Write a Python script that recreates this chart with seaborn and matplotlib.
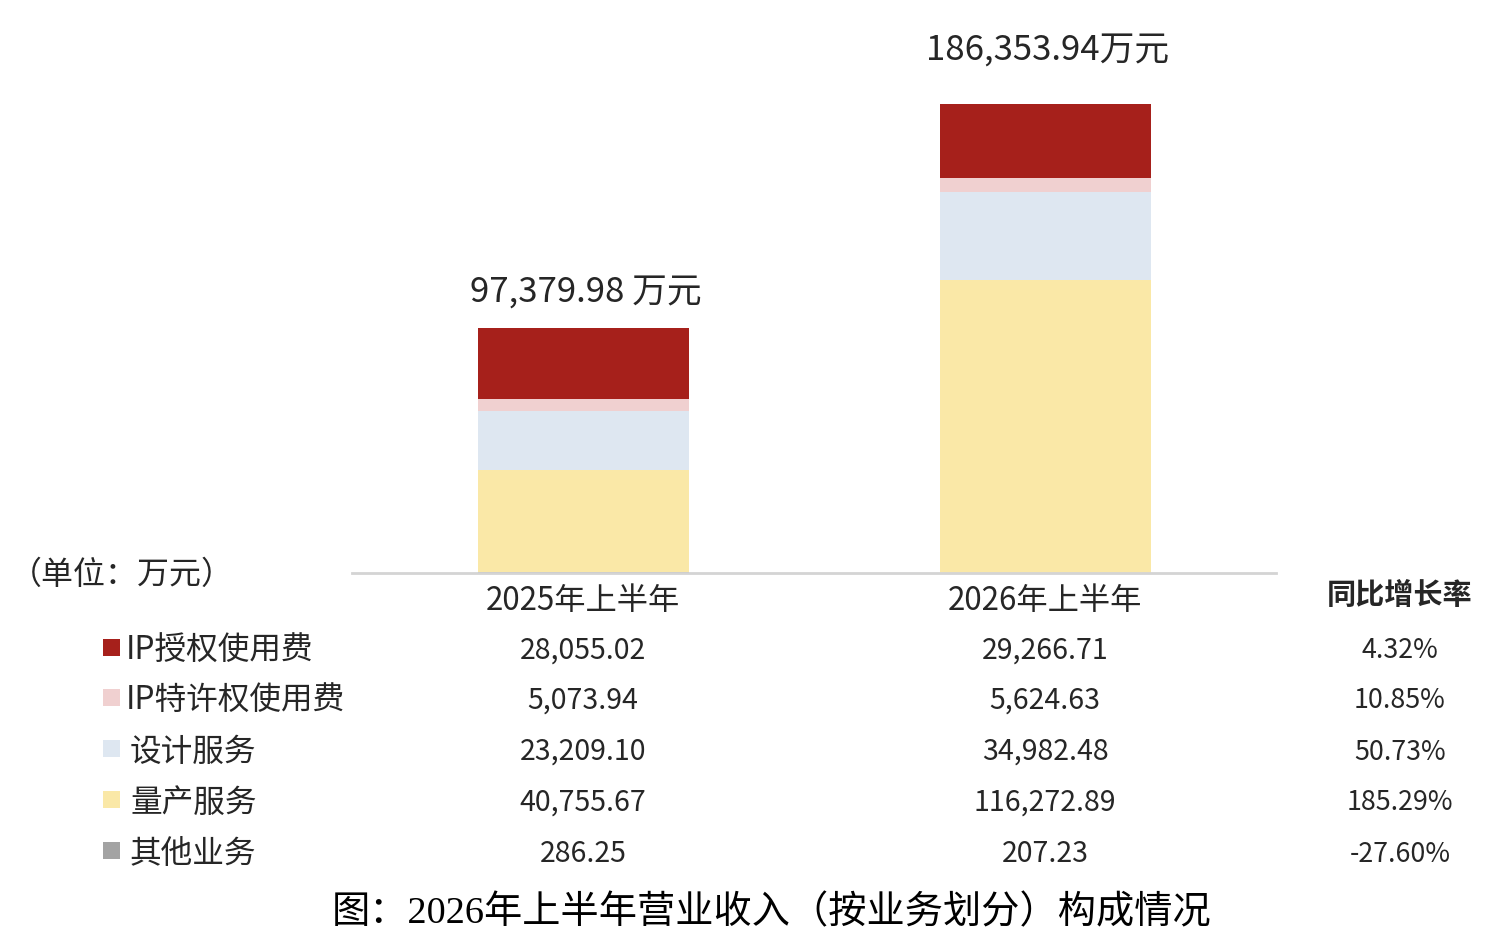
import numpy as np
import pandas as pd
import seaborn as sns
import matplotlib.pyplot as plt
import matplotlib.transforms as mtransforms
from matplotlib.patches import Rectangle

# periods and segments
periods = ["2025年上半年", "2026年上半年"]
segments = ["IP授权使用费", "IP特许权使用费", "设计服务", "量产服务", "其他业务"]

# revenue by segment, 万元
ip_license = [28055.02, 29266.71]
ip_franchise = [5073.94, 5624.63]
design = [23209.10, 34982.48]
mass_prod = [40755.67, 116272.89]
other = [286.25, 207.23]

totals = ["97,379.98 万元", "186,353.94万元"]
yoy = ["4.32%", "10.85%", "50.73%", "185.29%", "-27.60%"]

colors = ["#A6201B", "#F0D0D0", "#DEE7F1", "#FAE8A7", "#A3A3A3"]

sns.set_theme(style="white")
plt.rcParams["font.family"] = ["Noto Sans CJK SC", "DejaVu Sans"]

fig = plt.figure(figsize=(15.02, 9.52), dpi=100)
ax = fig.add_axes([0.2344, 0.398, 0.6152, 0.570])

# stack bottom -> top: other, mass production, design, franchise, license
stack = [other, mass_prod, design, ip_franchise, ip_license]
stack_colors = colors[::-1]
cum = np.cumsum(np.array(stack), axis=0)

for i in range(len(stack) - 1, -1, -1):
    df = pd.DataFrame({"period": periods, "value": cum[i]})
    sns.barplot(data=df, x="period", y="value", color=stack_colors[i],
                saturation=1, width=0.457, ax=ax, linewidth=0)

ax.set_xlim(-0.5, 1.5)
ax.set_ylim(0, 215700)
ax.set_xlabel("")
ax.set_ylabel("")
ax.set_xticks([])
ax.set_yticks([])
for side in ["top", "right", "left"]:
    ax.spines[side].set_visible(False)
ax.spines["bottom"].set_color("#D4D4D4")
ax.spines["bottom"].set_linewidth(2)

# total labels above the bars (gap in pixels)
label_gap = [35, 53]
for i, t in enumerate(totals):
    off = mtransforms.offset_copy(ax.transData, fig=fig, x=0, y=label_gap[i],
                                  units="dots")
    ax.text(i + 0.005, cum[-1][i], t, transform=off, ha="center",
            va="center", fontsize=25, color="#262626")

trans = mtransforms.blended_transform_factory(ax.transData, fig.transFigure)
ftrans = fig.transFigure


def fy(py):
    return 1 - (py + 3) / 952


# unit note
fig.text(10 / 1502, fy(572), "（单位：万元）", ha="left", va="center",
         fontsize=23, color="#262626")

# column headers
for i, p in enumerate(periods):
    fig.text(i, fy(598), p, transform=trans, ha="center", va="center",
             fontsize=22.5, color="#262626")
fig.text(1400 / 1502, fy(592), "同比增长率", ha="center", va="center",
         fontsize=21, fontweight="bold", color="#262626")

# data table rows
row_y = [648, 698, 749, 800, 851]
cols = [ip_license, ip_franchise, design, mass_prod, other]
for r, seg in enumerate(segments):
    y = fy(row_y[r])
    fig.patches.append(Rectangle((103 / 1502, 1 - (row_y[r] + 8) / 952),
                                 17 / 1502, 17 / 952,
                                 transform=ftrans, facecolor=colors[r],
                                 edgecolor="none"))
    lx = 126 if seg.startswith("IP") else 130
    fig.text(lx / 1502, y, seg, ha="left", va="center", fontsize=22.8,
             color="#262626")
    for i in range(2):
        fig.text(i, y, f"{cols[r][i]:,.2f}", transform=trans, ha="center",
                 va="center", fontsize=20.5, color="#262626")
    fig.text(1400 / 1502, y, yoy[r], ha="center", va="center", fontsize=19.3,
             color="#262626")

# caption
fig.text(772 / 1502, fy(910), "图：2026年上半年营业收入（按业务划分）构成情况",
         ha="center", va="center", fontsize=27.5, color="#000000",
         family=["Liberation Serif", "Noto Sans CJK SC"])

fig.savefig("out.png", dpi=100)
